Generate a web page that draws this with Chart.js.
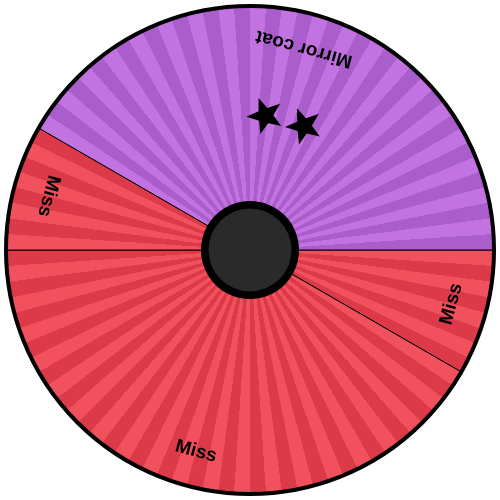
<!DOCTYPE html>
<html>
<head>
<meta charset="utf-8">
<script src="https://cdn.jsdelivr.net/npm/chart.js@4/dist/chart.umd.min.js"></script>
<style>
  html, body { margin: 0; padding: 0; background: #fff; }
  #wrap { width: 500px; height: 500px; }
</style>
</head>
<body>
<div id="wrap"><canvas id="chart"></canvas></div>
<script>
// wheel segments, clockwise from 3 o'clock (sizes out of 96)
const moveNames = ['Miss', 'Miss', 'Miss', 'Mirror coat'];
const moveSizes = [8, 40, 8, 40];
const moveStars = [0, 0, 0, 2];
const moveKinds = ['miss', 'miss', 'miss', 'purple'];

const stripeColors = {
    miss: ['#f1505d', '#dc3a48'],
    purple: ['#c272e1', '#aa5ecc'],
};
const stripeCount = 96;

function stripes(ctx) {
    const kind = moveKinds[ctx.dataIndex];
    const [light, dark] = stripeColors[kind];
    const area = ctx.chart.chartArea;
    if (!area) return light;
    const cx = (area.left + area.right) / 2;
    const cy = (area.top + area.bottom) / 2;
    const g = ctx.chart.ctx.createConicGradient(0, cx, cy);
    for (let i = 0; i < stripeCount; i++) {
        const c = i % 2 === 0 ? light : dark;
        g.addColorStop(i / stripeCount, c);
        g.addColorStop((i + 1) / stripeCount, c);
    }
    return g;
}

function drawStar(ctx, x, y, rot, outer, inner) {
    ctx.save();
    ctx.translate(x, y);
    ctx.rotate(rot);
    ctx.beginPath();
    for (let i = 0; i < 10; i++) {
        const r = i % 2 === 0 ? outer : inner;
        const a = -Math.PI / 2 + i * Math.PI / 5;
        const px = Math.cos(a) * r, py = Math.sin(a) * r;
        if (i === 0) ctx.moveTo(px, py); else ctx.lineTo(px, py);
    }
    ctx.closePath();
    ctx.fillStyle = '#000';
    ctx.fill();
    ctx.restore();
}

const wheelDecor = {
    id: 'wheelDecor',
    afterDatasetsDraw(chart) {
        const ctx = chart.ctx;
        const arcs = chart.getDatasetMeta(0).data;
        if (!arcs.length) return;
        const { x, y, outerRadius } = arcs[0].getProps(['x', 'y', 'outerRadius'], true);

        // labels and stars
        arcs.forEach((arc, i) => {
            const { startAngle, endAngle } = arc.getProps(['startAngle', 'endAngle'], true);
            const mid = (startAngle + endAngle) / 2;
            const rot = mid - Math.PI / 2;

            const lr = outerRadius - 35;
            ctx.save();
            ctx.translate(x + Math.cos(mid) * lr, y + Math.sin(mid) * lr);
            ctx.rotate(rot);
            ctx.font = 'bold 19px "Liberation Sans", Arial, sans-serif';
            ctx.fillStyle = '#000';
            ctx.textAlign = 'center';
            ctx.textBaseline = 'middle';
            ctx.fillText(moveNames[i], 0, 0);
            ctx.restore();

            const n = moveStars[i];
            const sr = outerRadius * 0.555;
            const step = 17 * Math.PI / 180;
            for (let k = 0; k < n; k++) {
                const a = mid + (k - (n - 1) / 2) * step;
                drawStar(ctx, x + Math.cos(a) * sr, y + Math.sin(a) * sr, rot, 19, 8);
            }
        });

        // outer rim
        ctx.save();
        ctx.beginPath();
        ctx.arc(x, y, outerRadius + 0.5, 0, Math.PI * 2);
        ctx.lineWidth = 4;
        ctx.strokeStyle = '#000';
        ctx.stroke();

        // hub
        ctx.beginPath();
        ctx.arc(x, y, 49, 0, Math.PI * 2);
        ctx.fillStyle = '#000';
        ctx.fill();
        ctx.beginPath();
        ctx.arc(x, y, 41.5, 0, Math.PI * 2);
        ctx.fillStyle = '#2a2a2a';
        ctx.fill();
        ctx.restore();
    }
};

new Chart(document.getElementById('chart').getContext('2d'), {
    type: 'pie',
    data: {
        labels: moveNames,
        datasets: [{
            data: moveSizes,
            backgroundColor: stripes,
            borderColor: '#000',
            borderWidth: 1,
        }]
    },
    options: {
        responsive: true,
        maintainAspectRatio: false,
        animation: false,
        events: [],
        rotation: 90,
        layout: { padding: 6 },
        plugins: {
            legend: { display: false },
            tooltip: { enabled: false },
        }
    },
    plugins: [wheelDecor]
});
</script>
</body>
</html>
